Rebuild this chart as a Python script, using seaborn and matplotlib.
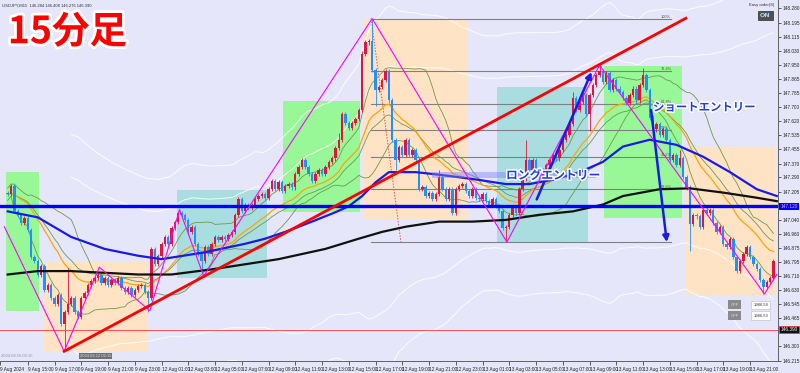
import numpy as np
import pandas as pd
import matplotlib
matplotlib.use('Agg')
import matplotlib.pyplot as plt
import matplotlib.patheffects as pe
from matplotlib.patches import Rectangle
import seaborn as sns

plt.rcParams['font.family'] = ['Noto Sans CJK JP', 'DejaVu Sans']
SMALL = ['Liberation Sans Narrow', 'Liberation Sans', 'DejaVu Sans']

# ---------------- data (USDJPY M15, candle index 0 = 9 Aug 13:30) ----------------
first_open = 147.20
closes = [
    147.19, 147.24, 147.09, 147.07, 147.02, 147.05, 146.98, 146.82, 146.80, 146.72,
    146.77, 146.63, 146.66, 146.58, 146.55, 146.60, 146.43, 146.50, 146.55, 146.58,
    146.50, 146.47, 146.58, 146.61, 146.66, 146.68, 146.70, 146.72, 146.67, 146.70,
    146.66, 146.69, 146.67, 146.70, 146.64, 146.62, 146.64, 146.60, 146.63, 146.65,
    146.66, 146.62, 146.58, 146.87, 146.78, 146.83, 146.90, 146.94, 146.90, 146.99,
    147.03, 147.08, 147.07, 147.04, 146.97, 147.00, 146.90, 146.84, 146.80, 146.88,
    146.84, 146.90, 146.94, 146.92, 146.94, 146.93, 146.95, 146.97, 147.07, 147.16,
    147.09, 147.13, 147.11, 147.13, 147.16, 147.18, 147.19, 147.17, 147.22, 147.27,
    147.22, 147.26, 147.21, 147.24, 147.25, 147.23, 147.31, 147.35, 147.39, 147.35,
    147.31, 147.27, 147.31, 147.335, 147.31, 147.35, 147.38, 147.40, 147.46, 147.51,
    147.66, 147.61, 147.58, 147.61, 147.63, 147.685, 148.01, 148.08, 148.09, 147.92,
    147.80, 147.82, 147.86, 147.91, 147.74, 147.51, 147.39, 147.47, 147.42, 147.51,
    147.42, 147.45, 147.39, 147.22, 147.23, 147.18, 147.20, 147.16, 147.19, 147.29,
    147.22, 147.16, 147.22, 147.08, 147.22, 147.24, 147.25, 147.21, 147.18, 147.22,
    147.17, 147.16, 147.19, 147.15, 147.13, 147.16, 147.12, 147.09, 146.99, 147.00,
    147.07, 147.11, 147.08, 147.22, 147.28, 147.39, 147.335, 147.39, 147.32, 147.29,
    147.335, 147.36, 147.39, 147.42, 147.40, 147.45, 147.51, 147.54, 147.60, 147.755,
    147.685, 147.73, 147.77, 147.66, 147.77, 147.83, 147.89, 147.91, 147.85, 147.90,
    147.80, 147.86, 147.81, 147.79, 147.755, 147.725, 147.77, 147.81, 147.74, 147.83,
    147.89, 147.80, 147.64, 147.57, 147.60, 147.54, 147.57, 147.51, 147.39, 147.42,
    147.36, 147.40, 147.29, 147.23, 147.015, 147.07, 147.06, 147.00, 147.10, 147.08,
    147.10, 147.02, 146.97, 147.00, 146.90, 146.88, 146.93, 146.82, 146.74, 146.80,
    146.84, 146.88, 146.82, 146.78, 146.75, 146.69, 146.645, 146.675, 146.70, 146.80,
]
high_marks = {18: 146.76, 99: 147.55, 106: 148.03, 109: 148.22, 129: 147.33,
              155: 147.51, 169: 147.79, 177: 147.95, 190: 147.93, 201: 147.45}
low_marks = {17: 146.27, 42: 146.50, 58: 146.74, 110: 147.71, 116: 147.33,
             149: 146.91, 174: 147.56, 204: 146.86, 226: 146.605}

blue_ma_idx = [0, 9, 19, 29, 39, 46, 59, 71, 77, 83, 91, 98, 102, 106, 110, 114, 122,
               129, 139, 149, 156, 164, 171, 178, 184, 192, 200, 208, 216, 224, 230]
blue_ma_val = [147.09, 147.055, 146.94, 146.87, 146.83, 146.81, 146.85, 146.90, 146.93,
               146.97, 147.03, 147.085, 147.12, 147.18, 147.26, 147.32, 147.32, 147.305,
               147.28, 147.25, 147.25, 147.28, 147.32, 147.38, 147.47, 147.51, 147.48,
               147.41, 147.32, 147.22, 147.18]
black_ma_idx = [0, 9, 19, 29, 39, 49, 61, 81, 95, 105, 112, 119, 129, 139, 149, 159, 169,
                178, 184, 195, 204, 214, 224, 230]
black_ma_val = [146.72, 146.74, 146.74, 146.73, 146.72, 146.72, 146.75, 146.81, 146.87,
                146.93, 146.97, 147.00, 147.03, 147.03, 147.04, 147.07, 147.09, 147.13,
                147.18, 147.22, 147.225, 147.20, 147.17, 147.15]

zigzag_idx = [-1.0, 16.9, 27.4, 42.5, 51.4, 58.6, 109.0, 149.3, 177.0, 226.3, 230.0]
zigzag_val = [147.00, 146.27, 146.763, 146.507, 147.10, 146.71, 148.22, 146.91, 147.947, 146.606, 146.72]

trend_idx = [16.9, 202.8]
trend_val = [146.27, 148.222]

support_level = 147.12
red_level = 146.396

fib_levels = [148.22, 147.91, 147.72, 147.565, 147.41, 147.22, 146.91]
fib_labels = ['100%', '76.4%', '61.8%', '50%', '38.2%', '23.6%', '']

# zones: (start idx, end idx, low price, high price, kind)
zones = [
    (-0.5, 9.3, 146.507, 147.318, 'g'),
    (10.5, 41.6, 146.268, 146.793, 'p'),
    (50.5, 77.5, 146.70, 147.218, 'c'),
    (82.3, 105.4, 147.084, 147.738, 'g'),
    (106.3, 137.5, 147.043, 148.22, 'p'),
    (146.4, 173.4, 146.91, 147.82, 'c'),
    (178.4, 201.6, 147.05, 147.94, 'g'),
    (202.5, 229.8, 146.60, 147.47, 'p'),
]

time_tick_idx = [-2.3, 6, 14, 22, 30, 38, 46, 54, 62, 70, 78, 86, 94, 102, 110, 118, 126,
                 134, 142, 150, 158, 166, 174, 182, 190, 198, 206, 214, 222]
time_tick_labels = ['9 Aug 2024', '9 Aug 15:00', '9 Aug 17:00', '9 Aug 19:00', '9 Aug 21:00',
                    '9 Aug 23:00', '12 Aug 01:00', '12 Aug 03:00', '12 Aug 05:00',
                    '12 Aug 07:00', '12 Aug 09:00', '12 Aug 11:00', '12 Aug 13:00',
                    '12 Aug 15:00', '12 Aug 17:00', '12 Aug 19:00', '12 Aug 21:00',
                    '12 Aug 23:00', '13 Aug 01:00', '13 Aug 03:00', '13 Aug 05:00',
                    '13 Aug 07:00', '13 Aug 09:00', '13 Aug 11:00', '13 Aug 13:00',
                    '13 Aug 15:00', '13 Aug 17:00', '13 Aug 19:00', '13 Aug 21:00']
price_tick_labels = ['148.280', '148.195', '148.115', '148.030', '147.950', '147.865',
                     '147.785', '147.700', '147.620', '147.535', '147.455', '147.370',
                     '147.290', '147.205', '147.040', '146.960', '146.875', '146.795',
                     '146.710', '146.630', '146.545', '146.465', '146.300', '146.215']

# ---------------- derived ----------------
n = len(closes)
idx = np.arange(n)
c = np.array(closes)
o = np.concatenate([[first_open], c[:-1]])
wick = 0.012
hi = np.maximum(o, c) + wick
lo = np.minimum(o, c) - wick
for k, v in high_marks.items():
    hi[k] = v
for k, v in low_marks.items():
    lo[k] = v

s = pd.Series(c)
mid = s.rolling(20, min_periods=1).mean()
sd = s.rolling(20, min_periods=2).std().bfill()
ema = s.ewm(span=20, adjust=False).mean()
ema_slow = s.ewm(span=26, adjust=False).mean()
bands = pd.DataFrame({'idx': idx, 'u1': mid + sd, 'l1': mid - sd, 'gmid': ema_slow, 'ema': ema})
mid_l = s.rolling(75, min_periods=20).mean()
sd_l = s.rolling(75, min_periods=20).std()

# ---------------- figure ----------------
BG = '#E6E6FA'
fig = plt.figure(figsize=(8, 3.73), dpi=100, facecolor=BG)
ax = fig.add_axes([0, 12 / 373, 778 / 800, 361 / 373], facecolor=BG)
ax.set_xlim(-0.504, 230.36)
ax.set_ylim(146.213, 148.329)

zone_col = {'g': '#98F898', 'p': '#FFE3C4', 'c': '#A9DDE0'}
for x0, x1, p0, p1, k in zones:
    ax.add_patch(Rectangle((x0, p0), x1 - x0, p1 - p0, facecolor=zone_col[k],
                           edgecolor='none', zorder=0))

# faint long bands
for m in (2, 3):
    ax.plot(idx, mid_l + m * sd_l, color='white', lw=0.7, alpha=0.85, zorder=1)
    ax.plot(idx, mid_l - m * sd_l, color='white', lw=0.7, alpha=0.85, zorder=1)

# fibonacci
for lv, lb in zip(fib_levels, fib_labels):
    ax.plot([108.7, 198.3], [lv, lv], color='#808080', lw=0.8, zorder=1.5)
    if lb:
        ax.text(195.2, lv + 0.006, lb, fontsize=2.8, color='#505050', zorder=6,
                family=SMALL)
ax.plot([108.7, 117.6], [148.22, 146.91], color='#E05050', lw=0.7, ls=(0, (1.5, 1.5)), zorder=1.5)

# bollinger (green) + ema (orange)
for col in ['gmid', 'u1', 'l1']:
    sns.lineplot(data=bands, x='idx', y=col, ax=ax, color='#6E9A4A', lw=0.6, zorder=2)
sns.lineplot(data=bands, x='idx', y='ema', ax=ax, color='#FFA500', lw=0.9, zorder=2)

# candles
up = c >= o
colors = np.where(up, '#E0143C', '#1E90FF')
ax.vlines(idx, lo, hi, colors=colors, lw=0.6, zorder=3)
body = np.maximum(np.abs(c - o), 0.004)
ax.bar(idx, body, bottom=np.minimum(o, c), width=0.72, color=colors, lw=0, zorder=3)

# moving averages
sns.lineplot(x=blue_ma_idx, y=blue_ma_val, ax=ax, color='#1A1AE6', lw=1.6, zorder=4)
sns.lineplot(x=black_ma_idx, y=black_ma_val, ax=ax, color='#111111', lw=1.6, zorder=4)

# horizontals
ax.axhline(support_level, color='#0000FF', lw=2.4, zorder=5)
ax.axhline(red_level, color='#FF5050', lw=0.7, zorder=5)

# zigzag & trend
sns.lineplot(x=zigzag_idx, y=zigzag_val, ax=ax, color='#FF00FF', lw=0.8, zorder=5, sort=False)
sns.lineplot(x=trend_idx, y=trend_val, ax=ax, color='#FF0000', lw=2.0, zorder=5)

# highlight band + texts
ax.add_patch(Rectangle((127, 147.285), 49, 0.035, facecolor='#8080FF', alpha=0.45,
                       edgecolor='none', zorder=4.5))
stroke = [pe.withStroke(linewidth=2.2, foreground='white')]
ax.text(149.0, 147.30, 'ロングエントリー', fontsize=8.5, color='#2040E0', fontweight='bold',
        va='center', ha='left', zorder=7, path_effects=stroke)
ax.text(193.0, 147.70, 'ショートエントリー', fontsize=8.2, color='#2040E0', fontweight='bold',
        va='center', ha='left', zorder=7, path_effects=stroke)
ax.text(0.010, 0.912, '15分足', transform=ax.transAxes, fontsize=27, color='#FF0000',
        fontweight='bold', va='center', ha='left', zorder=8,
        path_effects=[pe.withStroke(linewidth=4, foreground='white')])

# arrows
arrow_kw = dict(arrowstyle='-|>', color='#1A1AE6', lw=1.8, mutation_scale=9,
                shrinkA=0, shrinkB=0)
ax.annotate('', xy=(174.6, 147.907), xytext=(158.2, 147.16), arrowprops=arrow_kw, zorder=6)
ax.annotate('', xy=(197.1, 146.91), xytext=(192.4, 147.685), arrowprops=arrow_kw, zorder=6)

# axes styling
ax.yaxis.tick_right()
price_ticks = [float(t) for t in price_tick_labels]
ax.set_yticks(price_ticks)
ax.set_yticklabels(price_tick_labels)
ax.tick_params(axis='y', labelsize=3.4, length=2, width=0.5, pad=1.5, colors='#222222')
ax.set_xticks(time_tick_idx)
ax.set_xticklabels(time_tick_labels)
ax.tick_params(axis='x', labelsize=3.4, length=3, width=0.5, pad=1.0, colors='#222222')
for lbl in ax.get_xticklabels():
    lbl.set_ha('left')
    lbl.set_family(SMALL)
for lbl in ax.get_yticklabels():
    lbl.set_family(SMALL)
for sp in ['top', 'left']:
    ax.spines[sp].set_visible(False)
for sp in ['right', 'bottom']:
    ax.spines[sp].set_color('#606060')
    ax.spines[sp].set_linewidth(0.7)
ax.set_xlabel('')
ax.set_ylabel('')
leg = ax.get_legend()
if leg:
    leg.remove()

# price boxes on right axis
ax.text(1.003, support_level, '147.120', transform=ax.get_yaxis_transform(), fontsize=3.4,
        color='#E0B0FF', va='center', ha='left', family=SMALL, clip_on=False,
        bbox=dict(boxstyle='square,pad=0.25', fc='#0000FF', ec='none'), zorder=9)
ax.text(1.003, red_level, '146.390', transform=ax.get_yaxis_transform(), fontsize=3.4,
        color='white', va='center', ha='left', family=SMALL, clip_on=False,
        bbox=dict(boxstyle='square,pad=0.25', fc='#111111', ec='#FF3030', lw=0.5), zorder=9)

# terminal decorations
ax.text(0.003, 0.985, 'USDJPY,M15  146.284 146.408 146.276 146.390', transform=ax.transAxes,
        fontsize=3, color='#333333', va='center', ha='left', family=SMALL)
ax.text(0.995, 0.985, 'Easy order(S)', transform=ax.transAxes, fontsize=3, color='#333333',
        va='center', ha='right', family=SMALL)
ax.text(0.984, 0.957, 'ON', transform=ax.transAxes, fontsize=4.5, color='#9FD8FF',
        va='center', ha='center', family='DejaVu Sans', fontweight='bold',
        bbox=dict(boxstyle='square,pad=0.3', fc='#505050', ec='#303030', lw=0.5))
for yy, val in [(0.156, '1986.58'), (0.126, '1986.53')]:
    ax.text(0.944, yy, 'OFF', transform=ax.transAxes, fontsize=3, color='#DDDDDD',
            va='center', ha='center', family=SMALL,
            bbox=dict(boxstyle='square,pad=0.6', fc='#8A8A8A', ec='none'), zorder=9)
    ax.text(0.978, yy, val, transform=ax.transAxes, fontsize=3, color='#333333',
            va='center', ha='center', family=SMALL,
            bbox=dict(boxstyle='square,pad=0.5', fc='white', ec='#BBBBBB', lw=0.4), zorder=9)
ax.text(0.001, 0.008, '2024.08.16 02:15', transform=ax.transAxes, fontsize=3,
        color='#9090A0', va='bottom', ha='left', family=SMALL)
ax.text(0.103, 0.008, '2024.08.12 02:15', transform=ax.transAxes, fontsize=3,
        color='#DDDDDD', va='bottom', ha='left', family=SMALL,
        bbox=dict(boxstyle='square,pad=0.2', fc='#707070', ec='none'))

fig.savefig('out.png', dpi=100, facecolor=BG)
